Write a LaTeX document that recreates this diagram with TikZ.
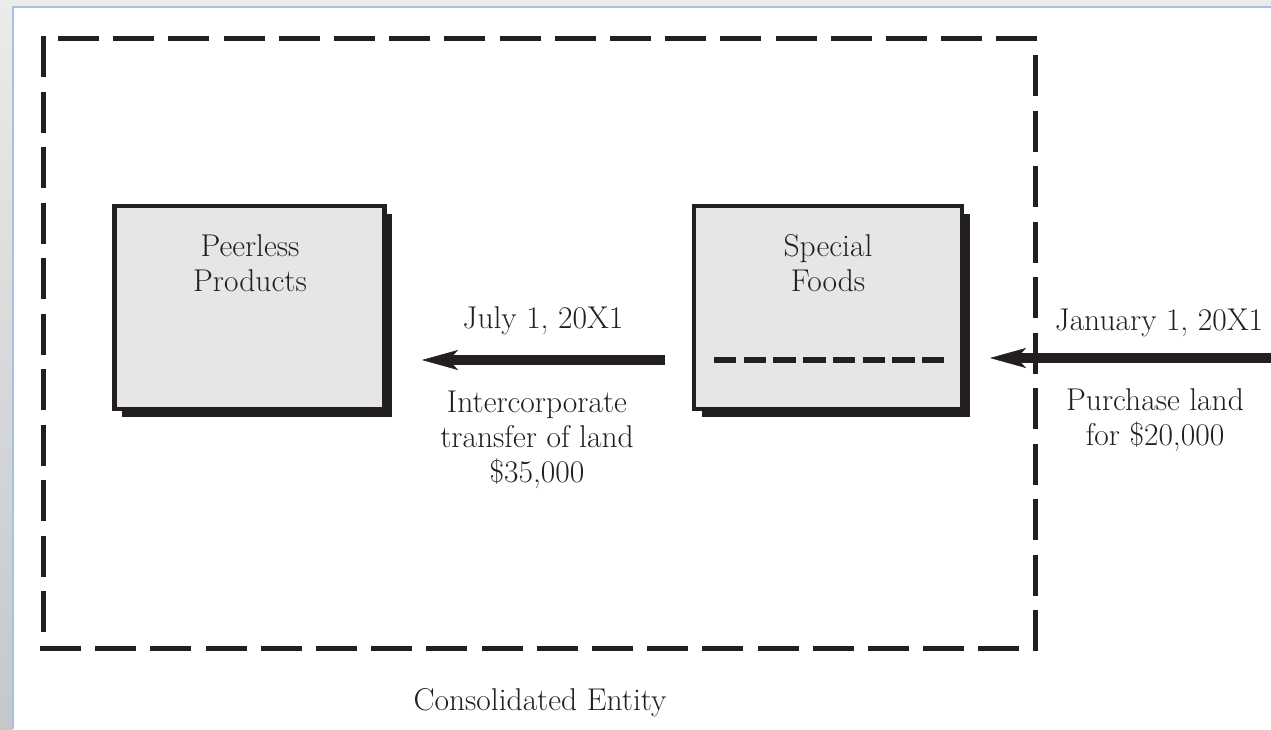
\documentclass[tikz,border=0pt]{standalone}
\usetikzlibrary{arrows.meta,shadows,calc}
\definecolor{ink}{HTML}{231F20}
\definecolor{boxfill}{HTML}{E6E6E6}
\definecolor{frameblue}{HTML}{A9BEE6}
\definecolor{stripA}{HTML}{EAEBEB}
\definecolor{stripB}{HTML}{C4C8C8}
\begin{document}
\begin{tikzpicture}[x=1pt,y=-1pt,
  txt/.style={font=\fontsize{31.5}{35}\selectfont, text=ink, inner sep=0pt, align=center},
  firm/.style={draw=ink, line width=4.5pt, fill=boxfill, inner sep=0pt, outer sep=0pt,
    minimum width=270pt, minimum height=203pt,
    general shadow={fill=ink, shadow xshift=8pt, shadow yshift=-8pt}},
  border/.style={draw=ink, line width=5pt},
  flow/.style={draw=ink, line width=10pt,
    -{Stealth[length=36pt,width=20pt,inset=9pt,line width=0.5pt]}},
  parcel/.style={draw=ink, line width=6.5pt, dash pattern=on 22.4pt off 7.3pt}]
\useasboundingbox (0,0) rectangle (1271,729);
% screen frame
\shade[top color=stripA, bottom color=stripB] (0,0) rectangle (12,729);
\fill[stripA] (0,0) rectangle (1271,6);
\draw[frameblue, line width=1.8pt] (12.7,729) -- (12.7,6.7) -- (1271,6.7);
% consolidated entity border
\draw[border, dash pattern=on 41pt off 14.5pt] (43,36) -- (43,632);
\draw[border, dash pattern=on 41pt off 14.2pt] (58,38.5) -- (1038,38.5);
\draw[border, dash pattern=on 41pt off 14.5pt] (1035.5,55) -- (1035.5,651);
\draw[border, dash pattern=on 41pt off 14.2pt] (40,648.5) -- (1019,648.5);
% firms
\node[firm] (pp) at (249.25,307.5) {};
\node[firm, minimum width=268pt] (sf) at (828,307.5) {};
\node[txt, anchor=north] (ppname) at (250,234) {Peerless\\Products};
\node[txt, anchor=north] (sfname) at (828,234) {Special\\Foods};
% land inside Special Foods
\coordinate (lvl) at (0,360);
\coordinate (lvlb) at (0,358);
\draw[parcel] ($(sf.west |- lvl)+(20,0)$) -- ($(sf.east |- lvl)+(-18,0)$);
% arrows
\draw[flow, shorten <=29pt, shorten >=37.75pt] (sf.west |- lvl) -- (pp.east |- lvl);
\coordinate (src) at (1275,358);
\draw[flow, shorten >=28pt] (src) -- (sf.east |- lvlb);
% labels
\node[txt, anchor=base] (jul) at (543,328) {July 1, 20X1};
\node[txt, anchor=base] (jan) at (1159,330) {January 1, 20X1};
\node[txt, anchor=north] (inter) at (537,391) {Intercorporate\\transfer of land\\\$35,000};
\node[txt, anchor=north] (purch) at (1155,388) {Purchase land\\for \$20,000};
\node[txt, anchor=base] (ent) at (540,710) {Consolidated Entity};
\end{tikzpicture}
\end{document}
